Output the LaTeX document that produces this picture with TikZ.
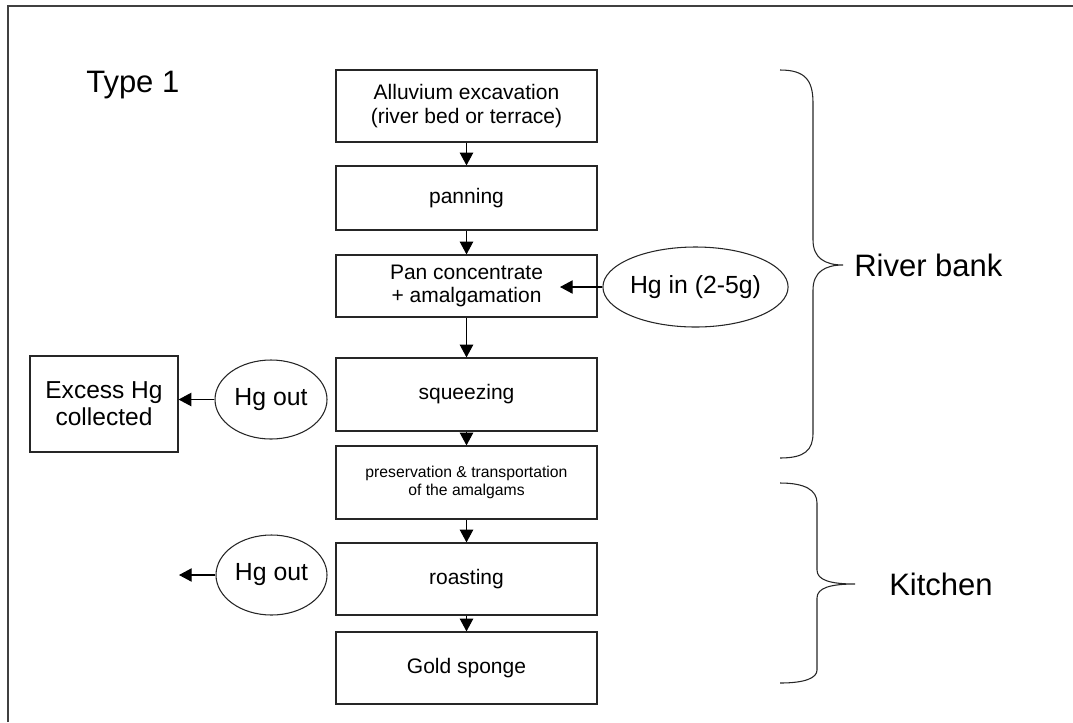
\documentclass[tikz,border=0pt]{standalone}
\usepackage{fontspec}
\setmainfont{Liberation Sans}
\usetikzlibrary{shapes.geometric,arrows.meta}
\tikzset{
  stepbox/.style={draw=black!85, line width=0.9pt, rectangle, minimum width=195.75pt, inner sep=0pt, align=center, font=\fontsize{15.75}{17.5}\selectfont},
  smallbox/.style={stepbox, font=\fontsize{11.8}{13.6}\selectfont},
  hgell/.style={draw=black!85, line width=0.8pt, ellipse, inner sep=0pt, align=center, font=\fontsize{18.6}{20.5}\selectfont},
  sidebox/.style={draw=black!85, line width=0.9pt, rectangle, inner sep=0pt, align=center, font=\fontsize{18.4}{20.5}\selectfont},
  flow/.style={line width=0.8pt, -{Triangle[length=9.5pt,width=10pt]}},
  bracestyle/.style={line width=0.8pt, draw=black!85},
  bigtext/.style={font=\fontsize{23.25}{26}\selectfont, inner sep=0pt, anchor=west}
}
\begin{document}
\begin{tikzpicture}[x=0.75pt,y=-0.75pt]
\useasboundingbox (0,0) rectangle (1073,722);
% outer frame (partly outside the picture)
\draw[line width=1.5pt, black!75] (8,722) -- (8,6) -- (1073,6);

\node[bigtext] (type) at (86,85) {Type 1};

\node[stepbox, minimum height=54pt] (b1) at (466.5,106) {Alluvium excavation\\(river bed or terrace)};
\node[stepbox, minimum height=48pt] (b2) at (466.5,198) {panning};
\node[stepbox, minimum height=46.5pt] (b3) at (466.5,286) {Pan concentrate\\+ amalgamation};
\node[stepbox, minimum height=54.75pt] (b4) at (466.5,394.5) {squeezing};
\node[smallbox, minimum height=54.75pt] (b5) at (466.5,482.5) {preservation \& transportation\\of the amalgams};
\node[stepbox, minimum height=54pt] (b6) at (466.5,579) {roasting};
\node[stepbox, minimum height=54pt] (b7) at (466.5,668) {Gold sponge};

\node[hgell, minimum width=123.75pt, minimum height=60pt] (hgin) at (695.5,287) {Hg in (2-5g)};
\node[hgell, minimum width=84pt, minimum height=59.25pt] (hgout1) at (271,399.5) {Hg out};
\node[hgell, minimum width=83.25pt, minimum height=60pt] (hgout2) at (271.5,575) {Hg out};
\node[sidebox, minimum width=111pt, minimum height=72pt] (excess) at (104,404) {Excess Hg\\collected};

\coordinate (hgintip) at (560,287);
\coordinate (outtip) at (179,575);

\draw[flow] (b1) -- (b2);
\draw[flow] (b2) -- (b3);
\draw[flow] (b3) -- (b4);
\draw[flow] (b4) -- (b5);
\draw[flow] (b5) -- (b6);
\draw[flow] (b6) -- (b7);
\draw[flow] (hgin.west) -- (hgintip);
\draw[flow] (hgout1.west) -- (hgout1.west -| excess.east);
\draw[flow] (hgout2.west) -- (outtip);

% braces
\draw[bracestyle] (780,70) .. controls (805,70) and (813,80) .. (813,103) -- (813,240)
  .. controls (813,258) and (825,265) .. (843,265)
  .. controls (825,265) and (813,272) .. (813,290) -- (813,433)
  .. controls (813,450) and (805,458) .. (780,458);
\draw[bracestyle] (780,483) .. controls (805,483) and (817,490) .. (817,503) -- (817,570)
  .. controls (817,580) and (830,584) .. (855,584)
  .. controls (830,584) and (817,588) .. (817,598) -- (817,670)
  .. controls (817,678) and (805,683) .. (780,683);

\node[bigtext] (river) at (854,265) {River bank};
\node[bigtext] (kitchen) at (889,584) {Kitchen};
\end{tikzpicture}
\end{document}
